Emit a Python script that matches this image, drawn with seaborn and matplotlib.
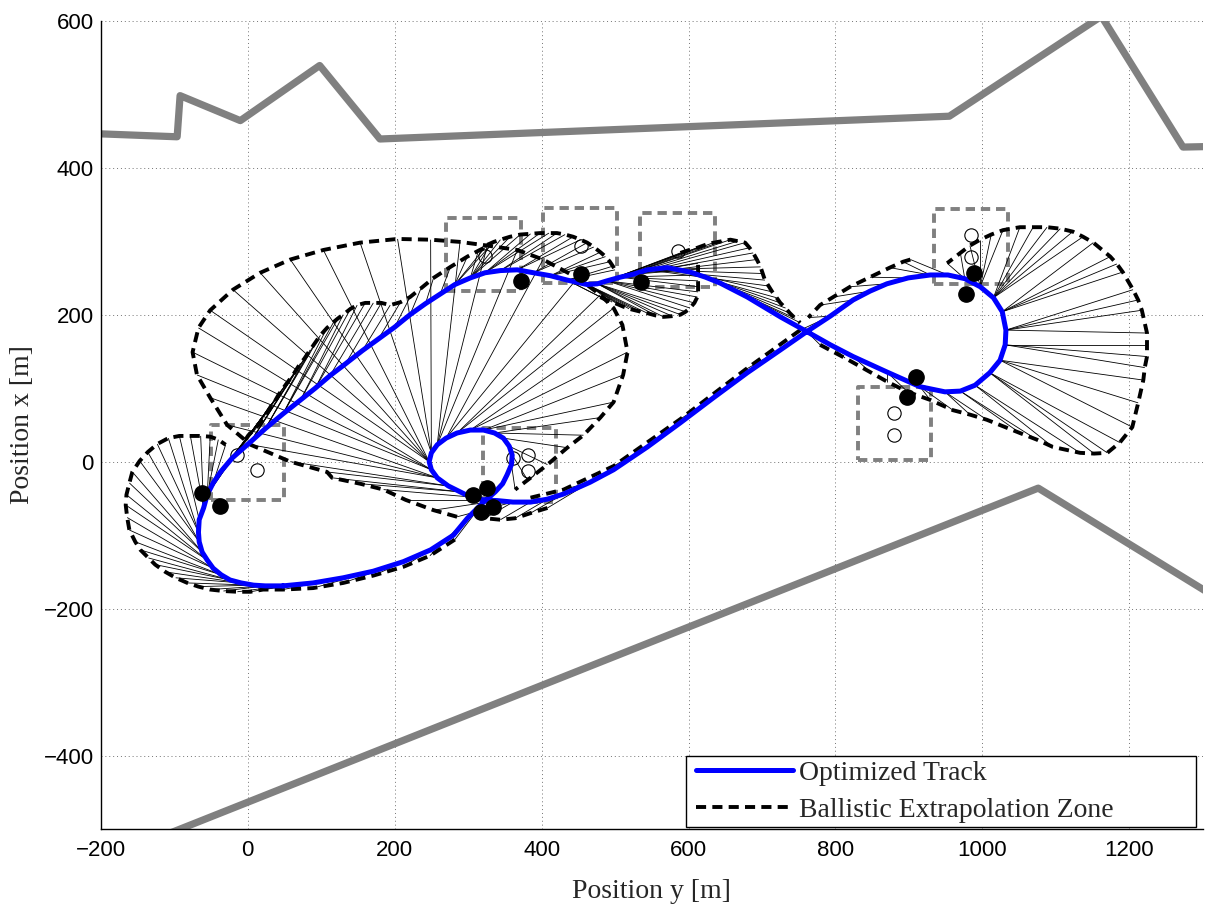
import matplotlib
matplotlib.use("Agg")
import matplotlib.pyplot as plt
import seaborn as sns
from matplotlib.collections import LineCollection
from matplotlib.lines import Line2D
from matplotlib.patches import Rectangle

sns.set_style("white")
plt.rcParams["font.family"] = ["Liberation Sans", "DejaVu Sans"]
plt.rcParams["axes.unicode_minus"] = True

# ---------------------------------------------------------------- track (m)
track_x = [48, 24, 8, -9, -24, -36, -47, -55, -62, -66,
           -67, -66, -60, -55, -47, -37, -21, 4, 24, 48,
           72, 92, 112, 133, 156, 178, 200, 221, 242, 262,
           282, 303, 323, 344, 367, 389, 412, 435, 462, 476,
           489, 507, 525, 544, 571, 602, 623, 643, 680, 725,
           761, 793, 824, 870, 915, 949, 970, 990, 1010, 1024,
           1031, 1032, 1027, 1015, 997, 976, 953, 929, 899, 870,
           847, 824, 793, 761, 725, 680, 634, 589, 544, 498,
           466, 430, 408, 385, 361, 340, 321, 303, 289, 273,
           258, 250, 247, 250, 258, 270, 285, 303, 321, 336,
           348, 356, 360, 359, 353, 347, 337, 321, 299, 280,
           249, 212, 171, 130, 89]
track_y = [-169, -169, -168, -165, -161, -154, -145, -134, -123, -109,
           -96, -79, -63, -45, -29, -14, 5, 27, 45, 65,
           84, 100, 117, 133, 151, 167, 183, 200, 215, 228,
           241, 250, 257, 260, 261, 257, 253, 247, 241, 242,
           246, 251, 255, 261, 264, 258, 251, 243, 224, 197,
           177, 159, 143, 122, 102, 95, 96, 104, 121, 138,
           159, 179, 204, 223, 238, 249, 254, 254, 250, 242,
           232, 220, 198, 177, 152, 121, 87, 53, 20, -11,
           -28, -44, -51, -55, -55, -53, -52, -48, -41, -33,
           -22, -11, 0, 12, 23, 32, 39, 43, 43, 39,
           32, 21, 9, -4, -18, -30, -41, -55, -77, -100,
           -120, -136, -149, -158, -165]

# ------------------------------------------- ballistic extrapolation fans
# each fan: end points of the extrapolations and the track sample they start from
fan1_x = [282, 248, 212, 171, 130, 89, 48, 21, 4, -14, -33, -51, -67, -82, -98, -112,
          -126, -135, -146, -153, -161, -164, -166, -165, -161, -157, -147, -136, -123,
          -108, -93, -78, -64, -51, -40, -30]
fan1_y = [-106, -128, -143, -155, -165, -172, -174, -174, -177, -177, -176, -174, -170,
          -165, -158, -150, -140, -131, -120, -109, -93, -76, -59, -45, -29, -14, 1, 13,
          24, 32, 35, 35, 35, 34, 30, 23]
fan1_from = [107, 108, 109, 110, 111, 112, 113, 114, 0, 0, 1, 1, 2, 2, 3, 3, 4, 4, 5, 5,
             6, 6, 7, 7, 8, 8, 9, 9, 10, 10, 11, 12, 12, 13, 13, 14]

fan2_x = [-3, 1, 6, 10, 15, 21, 27, 32, 38, 42, 47, 52, 58, 63, 68, 72, 77, 81, 85, 92,
          99, 108, 117, 123, 130, 140, 149, 160, 171, 182, 194, 208, 221, 236, 253, 276,
          299, 314, 330]
fan2_y = [30, 36, 41, 45, 50, 59, 68, 76, 84, 91, 98, 105, 113, 120, 128, 134, 140, 146,
          152, 162, 172, 182, 190, 195, 200, 208, 213, 216, 216, 216, 213, 217, 224, 236,
          250, 265, 279, 287, 295]
fan2_from = [13, 13, 14, 14, 14, 15, 15, 15, 15, 16, 16, 16, 16, 16, 17, 17, 17, 17, 18,
             18, 18, 19, 19, 19, 20, 20, 21, 21, 22, 23, 24, 25, 26, 27, 28, 29, 30, 31, 31]

fan3_x = [326, 335, 344, 357, 371, 385, 398, 410, 421, 432, 443, 453, 462, 471, 480, 487,
          493, 497, 500]
fan3_y = [295, 299, 302, 306, 309, 310, 311, 311, 311, 309, 306, 302, 298, 292, 285, 279,
          272, 266, 261]
fan3_from = [30, 30, 31, 31, 31, 32, 32, 32, 33, 33, 34, 34, 35, 35, 36, 36, 36, 37, 37]

fan4_x = [480, 488, 496, 504, 511, 519, 527, 535, 544, 555, 566, 578, 589, 596, 602, 608,
          612, 613, 613, 613, 613, 613, 613]
fan4_y = [224, 220, 217, 214, 211, 208, 206, 204, 202, 199, 197, 198, 200, 204, 209, 216,
          224, 231, 238, 246, 254, 262, 270]
fan4_from = [37, 37, 38, 38, 38, 38, 38, 38, 38, 39, 39, 39, 39, 39, 40, 40, 40, 40, 41,
             41, 41, 42, 42]

fan5_x = [589, 601, 612, 623, 634, 646, 657, 667, 677, 683, 688, 693, 698, 701, 704, 709,
          714, 720, 725, 732, 738, 745, 752]
fan5_y = [284, 288, 291, 295, 298, 300, 302, 300, 298, 291, 284, 275, 265, 256, 247, 239,
          231, 223, 216, 209, 202, 195, 189]
fan5_from = [40, 40, 40, 40, 41, 41, 41, 41, 42, 42, 42, 42, 43, 43, 43, 43, 44, 44, 45,
             45, 46, 46, 47]

fan6_x = [779, 813, 847, 870, 898, 929, 960, 983, 1006, 1051, 1074, 1096, 1133, 1152,
          1170, 1187, 1204, 1212, 1219, 1221, 1224, 1224, 1224, 1217, 1212, 1205, 1191,
          1183, 1174, 1151, 1137, 1123, 1106, 1088, 1069, 1051, 1028, 1012, 997, 983,
          970, 952]
fan6_y = [159, 141, 122, 109, 95, 84, 70, 64, 57, 39, 30, 20, 12, 11, 12, 26, 47, 80, 111,
          128, 143, 159, 175, 206, 220, 234, 258, 269, 279, 298, 306, 313, 317, 319, 319,
          319, 315, 309, 302, 294, 284, 270]
fan6_from = [50, 51, 52, 53, 53, 54, 54, 55, 55, 56, 56, 57, 57, 58, 58, 58, 59, 59, 59,
             60, 60, 60, 61, 61, 61, 61, 62, 62, 62, 62, 63, 63, 63, 63, 63, 63, 64, 64,
             64, 64, 65, 65]

fan7_x = [902, 892, 874, 847, 820, 797, 779, 763]
fan7_y = [275, 272, 264, 251, 238, 224, 213, 196]
fan7_from = [66, 67, 67, 68, 69, 70, 71, 72]

fan8_x = [752, 677, 589, 498, 430, 385]
fan8_y = [179, 125, 58, -6, -38, -49]
fan8_from = [72, 74, 76, 78, 80, 82]

fan9_x = [408, 385, 364, 344, 323]
fan9_y = [-63, -70, -77, -79, -77]
fan9_from = [80, 81, 82, 83, 84]

fan10_x = [285, 253, 215, 185, 153, 115, 108, 58, 4, -28, -51, -69, -75, -67, -51, -20,
           17, 58, 103, 153, 204, 249, 289, 326, 367, 402, 449, 480, 498, 510, 517, 511,
           498, 480, 457, 435, 408, 381, 364]
fan10_y = [-75, -66, -52, -38, -30, -22, -14, 0, 23, 50, 87, 118, 149, 182, 206, 234,
           257, 275, 288, 298, 303, 302, 299, 294, 288, 275, 250, 227, 209, 186, 149,
           118, 81, 60, 36, 19, -4, -25, -38]
fan10_from = [84, 85, 86, 87, 88, 88, 89, 89, 90, 90, 90, 91, 91, 91, 92, 92, 92, 92, 92,
              93, 93, 93, 94, 94, 94, 95, 95, 96, 96, 97, 97, 98, 98, 99, 99, 100, 101,
              102, 103]

fans = [(fan1_x, fan1_y, fan1_from), (fan2_x, fan2_y, fan2_from),
        (fan3_x, fan3_y, fan3_from), (fan4_x, fan4_y, fan4_from),
        (fan5_x, fan5_y, fan5_from), (fan6_x, fan6_y, fan6_from),
        (fan7_x, fan7_y, fan7_from), (fan8_x, fan8_y, fan8_from),
        (fan9_x, fan9_y, fan9_from), (fan10_x, fan10_y, fan10_from)]

# ------------------------------------------------------- corridor borders
upper_x = [-200, -96, -92, -10, 98, 180, 955, 1162, 1273, 1320]
upper_y = [446, 442, 498, 464, 539, 439, 470, 606, 428, 429]
lower_x = [-120, 1076, 1320]
lower_y = [-511, -36, -186]

# --------------------------------------------------------- target boxes
box_x0 = [-50, 270, 402, 534, 934, 830, 320]
box_x1 = [50, 372, 503, 636, 1035, 930, 420]
box_y0 = [-52, 232, 243, 238, 242, 2, -55]
box_y1 = [50, 331, 345, 338, 344, 102, 46]

# ------------------------------------------------------------- markers
hit_x = [-62, -37, 372, 454, 536, 989, 978, 910, 898, 307, 326, 334, 317]
hit_y = [-43, -60, 246, 255, 245, 257, 228, 115, 88, -45, -36, -62, -68]
open_x = [12, -15, 453, 323, 585, 985, 985, 880, 880, 361, 381, 382]
open_y = [-11, 9, 294, 280, 287, 309, 279, 66, 36, 5, 9, -13]

xticks = [-200, 0, 200, 400, 600, 800, 1000, 1200]
yticks = [-400, -200, 0, 200, 400, 600]

# ---------------------------------------------------------------- figure
fig = plt.figure(figsize=(12.05, 9.06), dpi=100)
ax = fig.add_axes([0.0836, 0.0848, 0.9146, 0.8924])

sns.lineplot(x=upper_x, y=upper_y, sort=False, estimator=None, color="#808080",
             linewidth=5.2, ax=ax, legend=False, zorder=1)
sns.lineplot(x=lower_x, y=lower_y, sort=False, estimator=None, color="#808080",
             linewidth=5.2, ax=ax, legend=False, zorder=1)

for x0, x1, y0, y1 in zip(box_x0, box_x1, box_y0, box_y1):
    ax.plot([x0, x1, x1, x0, x0], [y0, y0, y1, y1, y0], color="#808080",
            linewidth=2.8, dashes=(2.4, 1.5), zorder=2)

ax.plot(open_x, open_y, linestyle="none", marker="o", markersize=9.6,
        markerfacecolor="none", markeredgecolor="k", markeredgewidth=0.8, zorder=2.5)

for ex, ey, src in fans:
    segs = [[(track_x[i], track_y[i]), (x, y)] for x, y, i in zip(ex, ey, src)]
    ax.add_collection(LineCollection(segs, colors="k", linewidths=0.6, zorder=3))
    ax.plot(ex, ey, color="k", linewidth=2.8, dashes=(2.6, 1.6), zorder=3.5)

sns.lineplot(x=track_x + track_x[:1], y=track_y + track_y[:1], sort=False,
             estimator=None, color=(0, 0, 1), linewidth=3.6, ax=ax, legend=False,
             zorder=5)

ax.plot(hit_x, hit_y, linestyle="none", marker="o", markersize=11, color="k", zorder=6)

# ------------------------------------------------------------------ axes
ax.set_xlim(-200, 1300)
ax.set_ylim(-500, 600)
ax.set_xticks(xticks)
ax.set_yticks(yticks)
ax.grid(True, color="0.45", linestyle=(0, (1, 3)), linewidth=0.7)
ax.set_axisbelow(True)
for side in ("top", "right"):
    ax.spines[side].set_visible(False)
for side in ("left", "bottom"):
    ax.spines[side].set_linewidth(1.0)
    ax.spines[side].set_color("k")
ax.tick_params(direction="in", length=7, width=0.9, labelsize=16, colors="k",
               top=False, right=False)
ax.tick_params(axis="y", pad=5)
ax.tick_params(axis="x", pad=8)

serif = ["Liberation Serif", "DejaVu Serif"]
ax.set_xlabel("Position y [m]", fontsize=20, family=serif, labelpad=13)
ax.set_ylabel("Position x [m]", fontsize=20, family=serif, labelpad=6)

# legend: framed box with room to the right of the entries
ax.add_patch(Rectangle((0.531, 0.0027), 0.4628, 0.0878, transform=ax.transAxes,
                       facecolor="white", edgecolor="k", linewidth=1.0, zorder=7))
handles = [Line2D([], [], color=(0, 0, 1), linewidth=3.6),
           Line2D([], [], color="k", linewidth=2.8, dashes=(2.6, 1.6))]
leg = ax.legend(handles, ["Optimized Track", "Ballistic Extrapolation Zone"],
                loc="center left", bbox_to_anchor=(0.5402, 0.0466), borderaxespad=0,
                prop={"family": serif, "size": 20}, handlelength=3.5,
                handletextpad=0.2, labelspacing=0.42, borderpad=0, frameon=False)
leg.set_zorder(8)

fig.savefig("out.png", dpi=100)
